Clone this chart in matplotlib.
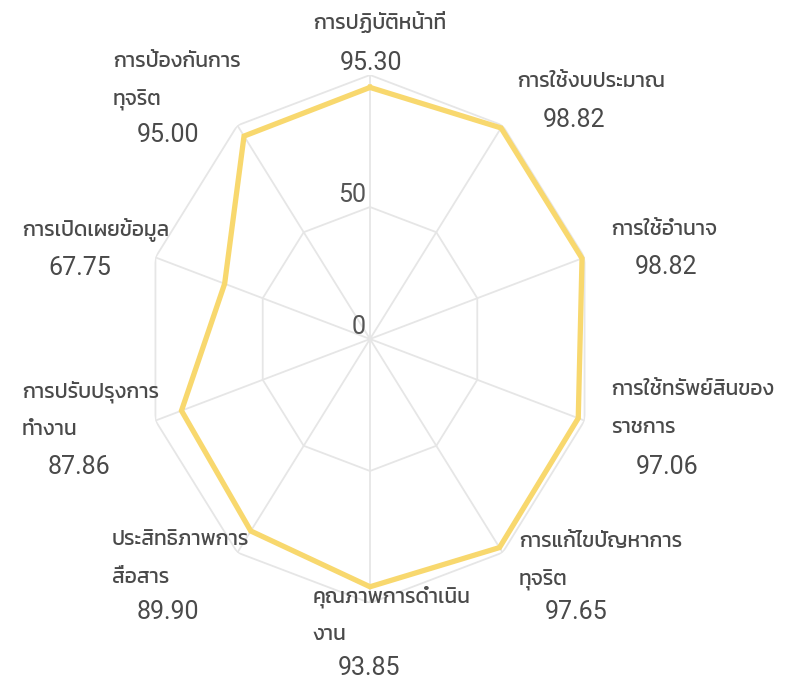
import numpy as np
import matplotlib
matplotlib.use("Agg")
import matplotlib.pyplot as plt
import matplotlib.font_manager as fm
from matplotlib.ft2font import FT2Font

# data
categories = ["การปฏิบัติหน้าที่", "การใช้งบประมาณ", "การใช้อำนาจ",
              "การใช้ทรัพย์สินของ\nราชการ", "การแก้ไขปัญหาการ\nทุจริต",
              "คุณภาพการดำเนิน\nงาน", "ประสิทธิภาพการ\nสื่อสาร",
              "การปรับปรุงการ\nทำงาน", "การเปิดเผยข้อมูล",
              "การป้องกันการ\nทุจริต"]
scores = [95.30, 98.82, 98.82, 97.06, 97.65, 93.85, 89.90, 87.86, 67.75, 95.00]
ring_levels = [50, 100]
ring_labels = ["0", "50"]

# find a font that has thai glyphs
cands = {}
for f in fm.fontManager.ttflist:
    try:
        if FT2Font(f.fname).get_char_index(0x0E01):
            cands.setdefault(f.name, f.fname)
    except Exception:
        pass
prefs = ["Kanit", "Prompt", "Noto Sans Thai", "Noto Sans Thai Looped", "Sarabun",
         "Loma", "Garuda", "Umpush", "Waree", "Tlwg Typo", "Sawasdee", "Kinnari"]
thai = None
for p in prefs:
    if p in cands:
        thai = p
        break
if thai is None and cands:
    thai = sorted(cands)[0]
name_family = [thai, "DejaVu Sans"] if thai else ["DejaVu Sans"]

W, H = 798, 685
fig = plt.figure(figsize=(W / 100, H / 100), dpi=100)
cx, cy, rx, ry = 370, 339, 225.6, 264
ax = fig.add_axes([(cx - rx) / W, (H - cy - ry) / H, 2 * rx / W, 2 * ry / H],
                  projection="polar")
ax.set_aspect("auto")
ax.set_theta_zero_location("N")
ax.set_theta_direction(-1)
ax.set_ylim(0, 100)
ax.grid(False)
ax.set_xticks([])
ax.set_yticks([])
ax.spines["polar"].set_visible(False)
ax.patch.set_visible(False)

n = len(scores)
ang = np.arange(n) * 2 * np.pi / n
ang_c = np.append(ang, ang[0])

grid_c = "#e6e6e6"
for r in ring_levels:
    ax.plot(ang_c, [r] * (n + 1), color=grid_c, lw=1.3, zorder=1)
for a in ang:
    ax.plot([a, a], [0, 100], color=grid_c, lw=1.3, zorder=1)

ax.plot(ang_c, scores + scores[:1], color="#f8d86e", lw=3.8, zorder=3,
        solid_joinstyle="miter", clip_on=False)

# radial labels on the top axis
txt_c = "#4a4a4a"
for lab, r in zip(ring_labels, [0, 50]):
    ax.annotate(lab, (0, r), xytext=(-3, 0), textcoords="offset points",
                ha="right", va="bottom", fontsize=18, color="#555555",
                family="Roboto", annotation_clip=False)

# label layout (pixels: name left, first line y, value left, value y)
layout = [(313, 22, 340, 63), (517, 82, 543, 120), (611, 230, 635, 267),
          (611, 390, 636, 467), (519, 542, 545, 612), (313, 597, 338, 668),
          (112, 540, 137, 612), (22, 392, 48, 467), (22, 230, 48, 268),
          (113, 62, 137, 135)]
for name, val, (nx, ny, vx, vy) in zip(categories, scores, layout):
    for k, line in enumerate(name.split("\n")):
        fig.text(nx / W, 1 - (ny + 38 * k) / H, line, ha="left", va="center",
                 fontsize=15, color=txt_c, family=name_family)
    fig.text(vx / W, 1 - vy / H, f"{val:.2f}", ha="left", va="center",
             fontsize=18, color=txt_c, family="Roboto")

fig.savefig("out.png", dpi=100, facecolor="white")
